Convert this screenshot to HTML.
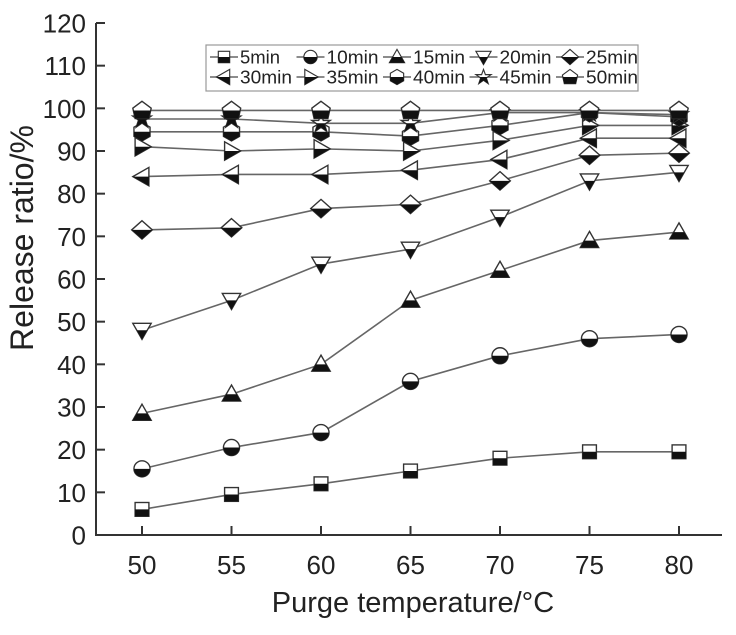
<!DOCTYPE html>
<html><head><meta charset="utf-8"><style>
body{margin:0;background:#fff;}
svg{display:block;font-family:"Liberation Sans",Arial,sans-serif;}
</style></head><body>
<svg id="s" width="736" height="635" viewBox="0 0 736 635" xmlns="http://www.w3.org/2000/svg">
<defs>
<clipPath id="bh"><rect x="-20" y="0" width="40" height="20"/></clipPath>
</defs>
<g id="g"></g>
</svg>
<script>
const g=document.getElementById('g');
let h='';
const X=t=>142+(t-50)/5*89.5, Y=v=>535-v*512/120;
h+='<path d="M96 23 V535 H722" stroke="#333" stroke-width="2" fill="none"/>';
for(let v=0;v<=120;v+=10){const y=Y(v);h+=`<line x1="96" x2="105" y1="${y}" y2="${y}" stroke="#333" stroke-width="2"/><text x="86" y="${y+9.5}" font-size="26" text-anchor="end" fill="#222">${v}</text>`;}
for(let t=50;t<=80;t+=5){const x=X(t);h+=`<line x1="${x}" x2="${x}" y1="526" y2="535" stroke="#333" stroke-width="2"/><text x="${x}" y="574" font-size="26" text-anchor="middle" fill="#222">${t}</text>`;}
h+='<text x="413" y="612" font-size="29" text-anchor="middle" fill="#222">Purge temperature/°C</text>';
h+='<text transform="translate(33,238) rotate(-90)" font-size="32" text-anchor="middle" fill="#222">Release ratio/%</text>';
const shapes={
sq:'<rect x="-6" y="-6" width="12" height="12"/>',
ci:'<circle r="7"/>',
tu:'<polygon points="0,-8 8,6 -8,6"/>',
td:'<polygon points="0,8 8,-6 -8,-6"/>',
di:'<polygon points="0,-8 9,0 0,8 -9,0"/>',
tl:'<polygon points="-8,0 6,-8 6,8"/>',
tr:'<polygon points="8,0 -6,-8 -6,8"/>',
hx:'<polygon points="-7,-4 0,-8 7,-4 7,4 0,8 -7,4"/>',
st:'<polygon points="0,-8 2,-2.5 8,-2.5 3,1 5,7 0,3.5 -5,7 -3,1 -8,-2.5 -2,-2.5"/>',
pe:'<polygon points="0,-8 8,-2 6,7 -6,7 -8,-2"/>'};
function mk(k,x,y,s){s=s||1.15;return `<g transform="translate(${x},${y}) scale(${s})"><g fill="#fff" stroke="#333" stroke-width="1.2">${shapes[k]}</g><g fill="#111" clip-path="url(#bh)">${shapes[k]}</g></g>`;}
const data=[
['sq','5min',[6,9.5,12,15,18,19.5,19.5]],
['ci','10min',[15.5,20.5,24,36,42,46,47]],
['tu','15min',[28.5,33,40,55,62,69,71]],
['td','20min',[48,55,63.5,67,74.5,83,85]],
['di','25min',[71.5,72,76.5,77.5,83,89,89.5]],
['tl','30min',[84,84.5,84.5,85.5,88,93,93]],
['tr','35min',[91,90,90.5,90,92.5,96,96]],
['hx','40min',[94.5,94.5,94.5,93.5,96,99,98]],
['st','45min',[97.5,97.5,96.5,96.5,99,99,98.5]],
['pe','50min',[99.5,99.5,99.5,99.5,99.5,99.5,99.5]]];
data.forEach(d=>{const pts=d[2].map((v,i)=>X(50+5*i)+','+Y(v)).join(' ');h+=`<polyline points="${pts}" fill="none" stroke="#666" stroke-width="1.6"/>`;});
data.forEach(d=>{d[2].forEach((v,i)=>{h+=mk(d[0],X(50+5*i),Y(v));});});
h+='<rect x="206" y="45" width="432" height="46" fill="#fff" stroke="#999" stroke-width="1.2"/>';
data.forEach((d,i)=>{const c=i%5,r=Math.floor(i/5);const x=214+c*86.5,y=57+r*20;
h+=`<line x1="${x-4}" x2="${x+24}" y1="${y}" y2="${y}" stroke="#666" stroke-width="1.6"/>`+mk(d[0],x+10,y,0.95)+`<text x="${x+26}" y="${y+6.5}" font-size="18" fill="#222" textLength="${d[1].length>4?52:40}" lengthAdjust="spacingAndGlyphs">${d[1]}</text>`;});
g.innerHTML=h;
</script>
</body></html>
